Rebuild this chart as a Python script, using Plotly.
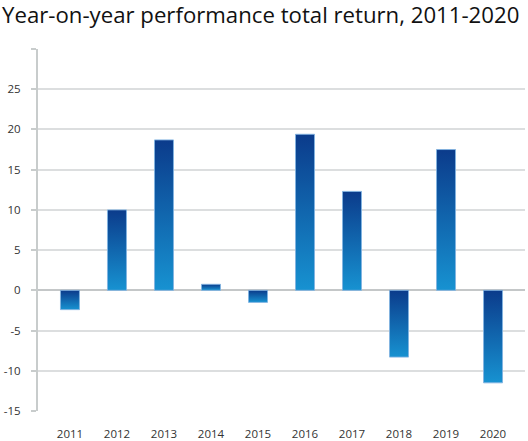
import plotly.graph_objects as go

# yearly total return, %
years = [2011, 2012, 2013, 2014, 2015, 2016, 2017, 2018, 2019, 2020]
returns = [-2.4, 10.0, 18.7, 0.75, -1.5, 19.4, 12.3, -8.3, 17.5, -11.5]
y_ticks = [-15, -10, -5, 0, 5, 10, 15, 20, 25, 30]
y_labels = ['-15', '-10', '-5', '0', '5', '10', '15', '20', '25', '']

bar_w = 0.404
grad = [[0, '#1792d1'], [1, '#0b3b8b']]

fig = go.Figure()

# one filled shape per bar so each gets its own top-to-bottom gradient
for yr, val in zip(years, returns):
    x0, x1 = yr - bar_w / 2, yr + bar_w / 2
    fig.add_trace(go.Scatter(
        x=[x0, x1, x1, x0, x0],
        y=[0, 0, val, val, 0],
        mode='lines',
        fill='toself',
        fillgradient=dict(type='vertical', colorscale=grad),
        line=dict(color='rgba(130,180,225,0.9)', width=1),
        hoverinfo='skip',
        showlegend=False,
    ))

fig.update_layout(
    width=528, height=441,
    margin=dict(l=38, r=3, t=49, b=30),
    paper_bgcolor='white', plot_bgcolor='white',
    font=dict(family='Open Sans, sans-serif', color='#333', size=11.5),
    title=dict(text='Year-on-year performance total return, 2011-2020',
               x=0.004, xanchor='left', y=0.982, yanchor='top',
               font=dict(size=22.2, color='#111')),
)
fig.update_xaxes(
    range=[2010.32, 2020.68],
    tickvals=years, ticktext=[str(y) for y in years],
    showgrid=False, zeroline=False, showline=False,
    ticks='', ticklabelstandoff=14, automargin=False,
)
fig.update_yaxes(
    range=[-15, 30],
    tickvals=y_ticks, ticktext=y_labels,
    showgrid=True, gridcolor='#dcdedf', gridwidth=1.5,
    zeroline=True, zerolinecolor='#c4c7c8', zerolinewidth=1.5,
    showline=True, linecolor='#c8cccc', linewidth=2,
    ticks='outside', ticklen=5, tickcolor='#c8cccc', tickwidth=2,
    ticklabelstandoff=8, automargin=False,
)

# drop the page's default body margin so the figure sits at the window corner
fig.write_html('out.html', config={'displayModeBar': False},
               post_script="document.body.style.margin='0';")
